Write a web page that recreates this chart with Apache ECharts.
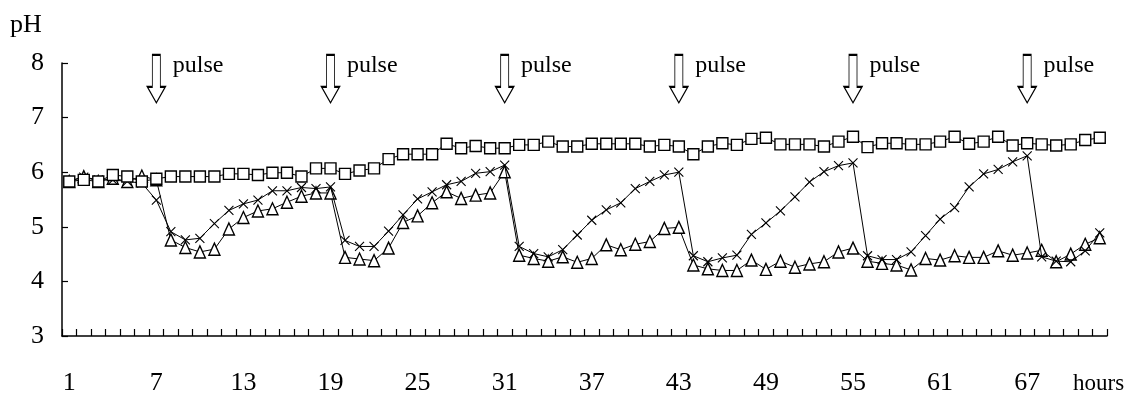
<!DOCTYPE html>
<html>
<head>
<meta charset="utf-8">
<script src="https://cdn.jsdelivr.net/npm/echarts@6/dist/echarts.min.js"></script>
<style>
html,body{margin:0;padding:0;background:#fff;}
#chart{width:1128px;height:400px;}
</style>
</head>
<body>
<div id="chart"></div>
<script>
var hours = ['1','2','3','4','5','6','7','8','9','10','11','12','13','14','15','16','17','18','19','20','21','22','23','24','25','26','27','28','29','30','31','32','33','34','35','36','37','38','39','40','41','42','43','44','45','46','47','48','49','50','51','52','53','54','55','56','57','58','59','60','61','62','63','64','65','66','67','68','69','70','71','72'];

var squareSeries = [5.83,5.86,5.83,5.95,5.92,5.83,5.88,5.92,5.92,5.92,5.92,5.97,5.97,5.95,5.99,5.99,5.92,6.07,6.07,5.97,6.03,6.07,6.24,6.33,6.33,6.33,6.52,6.44,6.48,6.44,6.44,6.50,6.50,6.56,6.47,6.47,6.52,6.52,6.52,6.52,6.47,6.50,6.47,6.33,6.47,6.53,6.50,6.61,6.63,6.51,6.51,6.51,6.47,6.56,6.65,6.46,6.53,6.53,6.51,6.51,6.56,6.65,6.52,6.56,6.65,6.49,6.53,6.51,6.49,6.51,6.59,6.63];

var crossSeries = [5.84,5.91,5.86,5.86,5.83,5.80,5.49,4.91,4.76,4.79,5.06,5.30,5.42,5.49,5.66,5.66,5.72,5.70,5.73,4.75,4.64,4.64,4.92,5.22,5.51,5.64,5.77,5.83,5.98,6.01,6.13,4.64,4.51,4.45,4.58,4.85,5.12,5.31,5.44,5.70,5.83,5.95,6.00,4.47,4.36,4.43,4.48,4.86,5.07,5.29,5.55,5.82,6.01,6.12,6.17,4.47,4.40,4.40,4.54,4.84,5.14,5.35,5.73,5.97,6.05,6.19,6.30,4.45,4.37,4.36,4.56,4.89];

var triangleSeries = [5.83,5.92,5.83,5.89,5.83,5.93,5.86,4.76,4.62,4.54,4.59,4.96,5.17,5.29,5.33,5.45,5.56,5.62,5.62,4.44,4.41,4.38,4.61,5.08,5.20,5.44,5.64,5.52,5.58,5.62,6.01,4.48,4.42,4.37,4.45,4.35,4.42,4.67,4.58,4.68,4.73,4.97,4.99,4.30,4.23,4.20,4.20,4.39,4.22,4.37,4.26,4.32,4.36,4.54,4.61,4.37,4.33,4.30,4.21,4.42,4.39,4.47,4.44,4.44,4.56,4.48,4.52,4.57,4.36,4.50,4.68,4.80];

var pulseHours = ['7','19','31','43','55','67'];
var pulseLevel = 7.71;
var pulseText = 'pulse';
var yTicks = [3,4,5,6,7,8];

var FONT = '"Liberation Serif", "DejaVu Serif", serif';
var chart = echarts.init(document.getElementById('chart'), null, {renderer:'canvas'});

var arrowPath = 'path://M5,0L13,0L13,32L18,32L9,48L0,32L5,32Z';
var crossPath = 'path://M0,0L10,10M10,0L0,10';

var option = {
  animation: false,
  backgroundColor: '#fff',
  grid: {left: 62, right: 21, top: 63, bottom: 64, containLabel: false},
  xAxis: {
    type: 'category',
    data: hours,
    boundaryGap: true,
    axisLine: {show: true, lineStyle: {color: '#000', width: 1.5}},
    axisTick: {show: true, inside: true, interval: 0, length: 7, lineStyle: {color: '#000', width: 1.2}},
    axisLabel: {interval: 5, margin: 34, color: '#000', fontFamily: FONT, fontSize: 26},
    splitLine: {show: false}
  },
  yAxis: {
    type: 'value',
    min: yTicks[0],
    max: yTicks[yTicks.length - 1],
    interval: 1,
    axisLine: {show: true, lineStyle: {color: '#000', width: 1.5}},
    axisTick: {show: true, inside: true, length: 6, lineStyle: {color: '#000', width: 1.2}},
    axisLabel: {margin: 18, color: '#000', fontFamily: FONT, fontSize: 26},
    splitLine: {show: false}
  },
  graphic: [
    {type: 'text', left: 10, top: 12, style: {text: 'pH', font: '26px ' + FONT, fill: '#000'}},
    {type: 'text', left: 1073, top: 372, style: {text: 'hours', font: '23px ' + FONT, fill: '#000'}}
  ],
  series: [
    {
      name: 'triangle', type: 'line', data: triangleSeries,
      symbol: 'triangle', symbolSize: [11, 12], showAllSymbol: true,
      lineStyle: {color: '#000', width: 1},
      itemStyle: {color: '#fff', borderColor: '#000', borderWidth: 1.4},
      z: 2
    },
    {
      name: 'cross', type: 'line', data: crossSeries,
      symbol: crossPath, symbolSize: 9, showAllSymbol: true,
      lineStyle: {color: '#000', width: 1},
      itemStyle: {color: '#000', borderColor: '#000', borderWidth: 1.1},
      z: 3
    },
    {
      name: 'square', type: 'line', data: squareSeries,
      symbol: 'rect', symbolSize: 11, showAllSymbol: true,
      lineStyle: {color: '#000', width: 1},
      itemStyle: {color: '#fff', borderColor: '#000', borderWidth: 1.4},
      z: 4,
      markPoint: {
        symbol: arrowPath,
        symbolSize: [18, 48],
        symbolKeepAspect: false,
        itemStyle: {color: '#fff', borderColor: '#000', borderWidth: 1.3},
        label: {show: true, position: 'right', distance: 7, offset: [0, -13], formatter: pulseText, color: '#000', fontFamily: FONT, fontSize: 24},
        data: pulseHours.map(function (h) { return {coord: [h, pulseLevel]}; })
      }
    }
  ]
};
chart.setOption(option);
</script>
</body>
</html>
